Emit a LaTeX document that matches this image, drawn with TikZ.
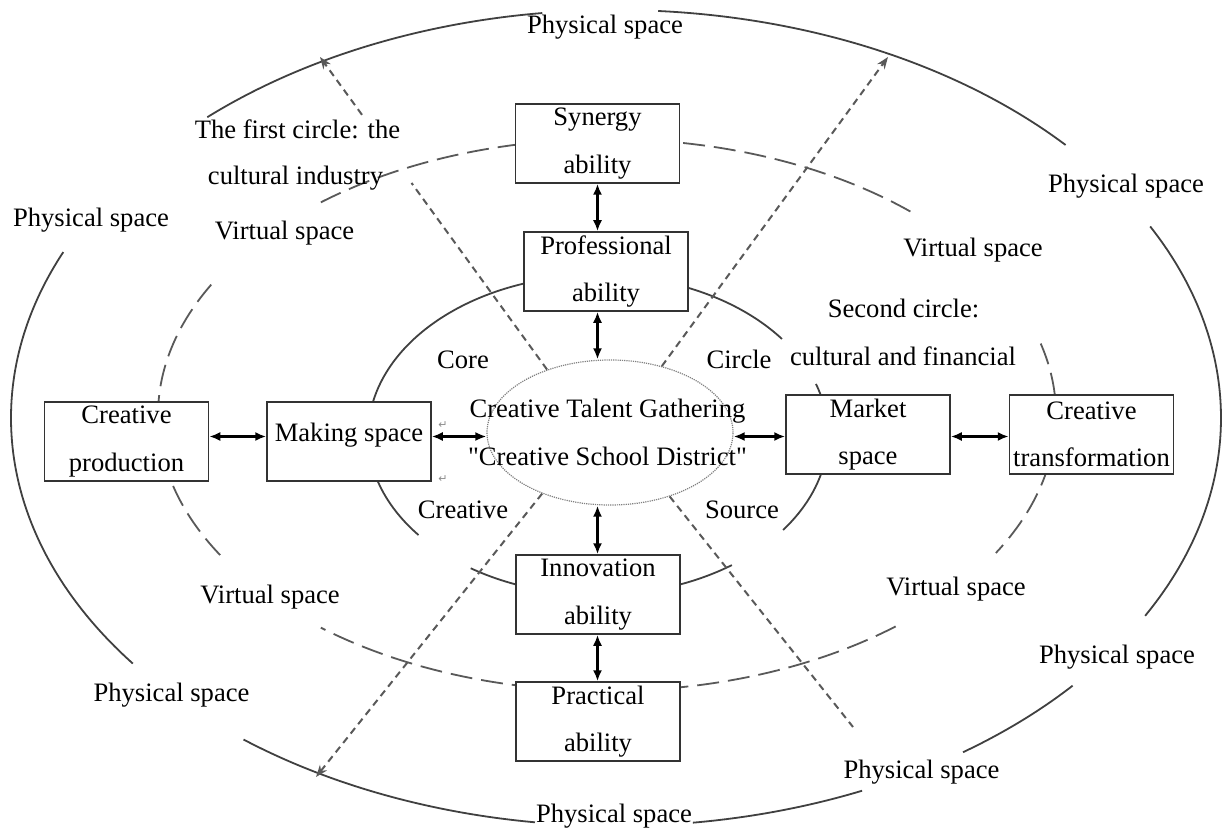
\documentclass[tikz,border=0pt]{standalone}
\usepackage{fontspec}
\setmainfont{Liberation Serif}
\newfontfamily\djv{DejaVu Sans}
\usetikzlibrary{arrows.meta,calc,shapes.geometric}
\begin{document}
\begin{tikzpicture}[x=1pt,y=-1pt,
  font=\fontsize{26.6}{47.5}\selectfont,
  solidring/.style={draw=black!75, line width=1.8pt},
  dashring/.style={draw=black!65, line width=1.8pt, dash pattern=on 22pt off 9pt},
  ray/.style={draw=black!65, line width=2pt, dash pattern=on 7pt off 5pt},
  raytip/.style={arrows={-Stealth[length=12pt,width=9pt]}},
  box/.style={draw=black!80, line width=1.5pt, fill=white, minimum width=164pt, minimum height=79pt, inner sep=0pt, align=center},
  link/.style={draw=black, line width=2.2pt, arrows={Latex[length=11pt,width=9pt]-Latex[length=11pt,width=9pt]}},
  lbl/.style={anchor=base, inner sep=0pt},
  retmark/.style={font=\djv\fontsize{11}{11}\selectfont, text=black!45, inner sep=0pt}
]
\useasboundingbox (0,0) rectangle (1223,829);

% outer ring (physical space)
\foreach \a/\b in {-86/-42, -28/29, 41/55, 66/82.7, 97.7/128, 143/204, 227.5/263}{
  \draw[solidring] (616,418) ++(\a:605 and 408) arc[start angle=\a, end angle=\b, x radius=605, y radius=408];
}
% middle ring (virtual space)
\foreach \a/\b in {149.5/209, 230.4/313, -15/30, 50/129.6}{
  \draw[dashring] (607,415) ++(\a:449 and 276) arc[start angle=\a, end angle=\b, x radius=449, y radius=276];
}
% inner ring (creative core circle)
\foreach \a/\b in {-18.6/36.4, 54.4/123.6, 141.3/323.1}{
  \draw[solidring] (598,435) ++(\a:230 and 160) arc[start angle=\a, end angle=\b, x radius=230, y radius=160];
}

% centre
\node[ellipse, draw=black!50, densely dotted, line width=1.2pt, minimum width=246pt, minimum height=145pt, inner sep=0pt] (ce) at (610,432.5) {};
\node[align=center, inner sep=0pt] (cetext) at (607.5,432.5) {Creative Talent Gathering\\\textquotedbl Creative School District\textquotedbl};

% rays
\coordinate (e1) at (320,57);
\coordinate (e2) at (888,57);
\coordinate (e3) at (316,777);
\coordinate (e4) at (853,727);
\draw[ray] (ce.135) -- ($(ce.135)!0.597!(e1)$);
\draw[ray, raytip] ($(ce.135)!0.815!(e1)$) -- (e1);
\draw[ray, raytip] (ce.52) -- (e2);
\draw[ray, raytip] (ce.222) -- (e3);
\draw[ray] (ce.313) -- (e4);

% boxes
\node[box] (syn) at (597.5,143.5) {Synergy\\ability};
\node[box] (pro) at (606,271.5) {Professional\\ability};
\node[box] (inn) at (598,594.5) {Innovation\\ability};
\node[box] (pra) at (598,721.5) {Practical\\ability};
\node[box] (cp) at (126.5,441.5) {Creative\\production};
\node[box, text height=12pt, text depth=12pt] (ms) at (349,441.5) {Making space};
\node[box] (mk) at (868,434.5) {Market\\space};
\node[box] (ct) at (1091.5,434.5) {Creative\\transformation};

% links
\draw[link] (syn.south) -- (syn.south |- pro.north);
\draw[link] (pro.south -| syn.south) -- (ce.north -| syn.south);
\draw[link] (ce.south -| syn.south) -- (inn.north -| syn.south);
\draw[link] (inn.south -| syn.south) -- (pra.north -| syn.south);
\draw[link] ([yshift=5pt]cp.east) -- ([yshift=5pt]ms.west);
\draw[link] ([yshift=5pt]ms.east) -- ([yshift=5pt]ms.east -| ce.west);
\draw[link] ([yshift=-2pt]mk.west -| ce.east) -- ([yshift=-2pt]mk.west);
\draw[link] ([yshift=-2pt]mk.east) -- ([yshift=-2pt]ct.west);

\node[retmark] (rt1) at (443,425) {↵};
\node[retmark] (rt2) at (443,479) {↵};

% labels
\node[lbl] (pt) at (605,34) {Physical space};
\node[lbl] (pl) at (91,226) {Physical space};
\node[lbl] (prt) at (1126,193) {Physical space};
\node[lbl] (prb) at (1117,663) {Physical space};
\node[lbl] (plb) at (171.5,701) {Physical space};
\node[lbl] (pbr) at (921.5,778) {Physical space};
\node[lbl] (pb) at (614,822) {Physical space};
\node[lbl] (fc1) at (297.5,139) {The first circle: the};
\node[lbl] (fc2) at (295.5,185) {cultural industry};
\node[lbl] (vtl) at (284.5,240) {Virtual space};
\node[lbl] (vtr) at (973,256) {Virtual space};
\node[lbl] (vbl) at (270,603) {Virtual space};
\node[lbl] (vbr) at (956,595) {Virtual space};
\node[lbl] (sc1) at (903.5,317.5) {Second circle:};
\node[lbl] (sc2) at (903,365) {cultural and financial};
\node[lbl] (core) at (463,368) {Core};
\node[lbl] (circ) at (739,368) {Circle};
\node[lbl] (crea) at (463,518) {Creative};
\node[lbl] (src) at (742,518) {Source};
\end{tikzpicture}
\end{document}
